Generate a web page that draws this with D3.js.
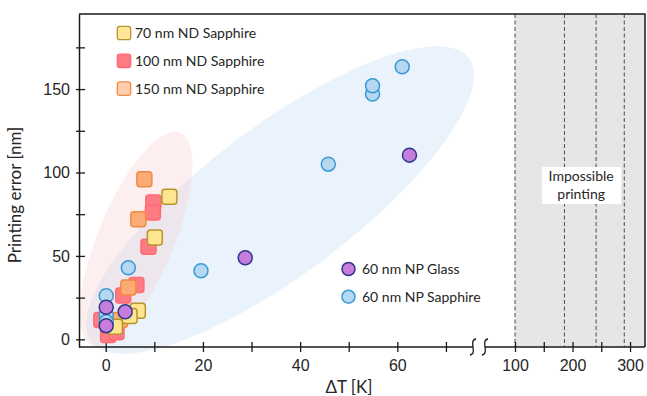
<!DOCTYPE html>
<html>
<head>
<meta charset="utf-8">
<script src="https://cdn.jsdelivr.net/npm/d3@7"></script>
<style>
  body { margin: 0; background: #fff; }
  svg { font-family: Lato, "Open Sans", sans-serif; }
</style>
</head>
<body>
<svg id="chart" width="647" height="396"></svg>
<script>
// values: [ΔT in K, printing error in nm]
const nd70 = [[13.1, 85.5], [10.1, 61], [6.6, 17.1], [4.9, 14], [1.9, 7.6]];
const nd100 = [[9.8, 82], [9.7, 76], [8.8, 55.5], [6.3, 32.5], [3.6, 26.3], [-0.9, 11.6], [0.5, 2.6], [2.2, 4.2]];
const nd150 = [[7.95, 96], [6.7, 72], [4.65, 31], [2.9, 11.6]];
const npSapphire = [[0.1, 26.1], [0.1, 14.6], [0.1, 10.5], [4.65, 42.9], [19.6, 41.1], [45.8, 105], [54.9, 147], [54.9, 152], [61, 163.4]];
const npGlass = [[0.1, 19.2], [4.0, 16.5], [0.1, 8.2], [28.7, 48.9], [62.5, 110.4]];

const yTicks = [0, 25, 50, 75, 100, 125, 150, 175];
const xTicksLeft = [0, 10, 20, 30, 40, 50, 60, 70];
const xTicksRight = [100, 150, 200, 250, 300];
const limitLines = [100, 186, 241, 290];   // dashed lines in the "impossible" zone

// ellipses given by the two ends of the long axis (data units)
const pinkEllipse = { from: [-2.8, -3.6], to: [15.3, 123.8] };
const blueEllipse = { from: [-3.0, -1.6], to: [74.7, 168.6] };

const svg = d3.select("#chart");
const textColor = "#262626";

const xLeft = d3.scaleLinear().domain([-5.5, 76.7]).range([79, 478.5]);
const xRight = d3.scaleLinear().domain([100, 326]).range([515, 645]);
const y = d3.scaleLinear().domain([-4.6, 195]).range([347, 14]);

const pLeft = 79, pRight = 645, pTop = 14, pBottom = 347;

// grey zone
svg.append("rect")
  .attr("x", xRight(100)).attr("y", pTop)
  .attr("width", pRight - xRight(100)).attr("height", pBottom - pTop)
  .attr("fill", "#e6e6e6");

svg.selectAll("line.limit")
  .data(limitLines)
  .join("line")
  .attr("class", "limit")
  .attr("x1", d => xRight(d)).attr("x2", d => xRight(d))
  .attr("y1", pTop).attr("y2", pBottom)
  .attr("stroke", "#5a5a5a")
  .attr("stroke-width", 1.1)
  .attr("stroke-dasharray", "4,2.5");

// label box
const note = svg.append("g").attr("transform", `translate(${xRight(215)},${y(92.5)})`);
note.append("rect")
  .attr("x", -39).attr("y", -18).attr("width", 79).attr("height", 37)
  .attr("fill", "#fff");
note.selectAll("text")
  .data(["Impossible", "printing"])
  .join("text")
  .attr("x", 0).attr("y", (d, i) => i * 18 - 4)
  .attr("text-anchor", "middle")
  .attr("font-size", 14)
  .attr("fill", textColor)
  .text(d => d);

// shaded ellipses
function drawEllipse(e, b, fill, opacity) {
  const x0 = xLeft(e.from[0]), y0 = y(e.from[1]);
  const x1 = xLeft(e.to[0]), y1 = y(e.to[1]);
  const cx = (x0 + x1) / 2, cy = (y0 + y1) / 2;
  const a = Math.hypot(x1 - x0, y1 - y0) / 2;
  const ang = Math.atan2(y1 - y0, x1 - x0) * 180 / Math.PI;
  svg.append("ellipse")
    .attr("cx", 0).attr("cy", 0).attr("rx", a).attr("ry", b)
    .attr("transform", `translate(${cx},${cy}) rotate(${ang})`)
    .attr("fill", fill)
    .attr("opacity", opacity);
}
drawEllipse(blueEllipse, 74, "#eaf3fb", 1);
drawEllipse(pinkEllipse, 38, "#f9c9cd", 0.3);

// frame
svg.append("path")
  .attr("d", `M${pLeft},${pTop}H${pRight}V${pBottom}`)
  .attr("fill", "none").attr("stroke", "#1a1a1a").attr("stroke-width", 1.5);

// y axis
const yAxis = svg.append("g")
  .attr("transform", `translate(${pLeft},0)`)
  .call(d3.axisLeft(y).tickValues(yTicks).tickSizeOuter(0)
    .tickFormat(d => d % 50 === 0 ? d : ""));
yAxis.select(".domain").attr("stroke", "#1a1a1a").attr("stroke-width", 1.5);
yAxis.selectAll(".tick line").attr("x1", -3).attr("x2", 6).attr("stroke", "#1a1a1a").attr("stroke-width", 1.3);
yAxis.selectAll(".tick text").attr("x", -9).attr("font-size", 16).attr("fill", textColor).attr("font-family", null);

// x axis, two pieces
function bottomAxis(scale, ticks, fmt) {
  const g = svg.append("g")
    .attr("transform", `translate(0,${pBottom})`)
    .call(d3.axisBottom(scale).tickValues(ticks).tickSizeOuter(0).tickFormat(fmt));
  g.select(".domain").remove();
  g.selectAll(".tick line").attr("y1", -5).attr("y2", 5).attr("stroke", "#1a1a1a").attr("stroke-width", 1.3);
  g.selectAll(".tick text").attr("y", 13).attr("font-size", 16).attr("fill", textColor).attr("font-family", null);
}
bottomAxis(xLeft, xTicksLeft, d => d % 20 === 0 ? d : "");
bottomAxis(xRight, xTicksRight, d => d % 100 === 0 ? d : "");

const breakX = 479;
svg.append("line")
  .attr("x1", pLeft).attr("x2", breakX - 6).attr("y1", pBottom).attr("y2", pBottom)
  .attr("stroke", "#1a1a1a").attr("stroke-width", 1.5);
svg.append("line")
  .attr("x1", breakX + 6).attr("x2", pRight).attr("y1", pBottom).attr("y2", pBottom)
  .attr("stroke", "#1a1a1a").attr("stroke-width", 1.5);
[breakX - 6, breakX + 6].forEach(bx => {
  svg.append("path")
    .attr("d", `M${bx + 3},${pBottom - 8} C${bx - 5},${pBottom - 7} ${bx + 5},${pBottom + 7} ${bx - 3},${pBottom + 8}`)
    .attr("fill", "none").attr("stroke", "#1a1a1a").attr("stroke-width", 1.3);
});

// axis titles
svg.append("text")
  .attr("x", 349).attr("y", 393)
  .attr("text-anchor", "middle").attr("font-size", 17).attr("fill", textColor)
  .text("ΔT [K]");
svg.append("text")
  .attr("transform", "translate(21,195) rotate(-90)")
  .attr("text-anchor", "middle").attr("font-size", 17).attr("fill", textColor)
  .text("Printing error [nm]");

// markers
const squares = [
  { name: "100 nm ND Sapphire", data: nd100, fill: "#ff7b83", stroke: "#ff6a73", legendFill: "#ff7b83" },
  { name: "150 nm ND Sapphire", data: nd150, fill: "#fbab76", stroke: "#f28a40", legendFill: "#fdcdb0" },
  { name: "70 nm ND Sapphire", data: nd70, fill: "#ffe590", stroke: "#b8942c", legendFill: "#ffe699" }
];
const circles = [
  { name: "60 nm NP Sapphire", data: npSapphire, fill: "#b5d8f0", stroke: "#3a9ad6" },
  { name: "60 nm NP Glass", data: npGlass, fill: "#c77ddd", stroke: "#2d3a8a" }
];

const sq = 15;
squares.forEach(s => {
  svg.append("g").selectAll("rect")
    .data(s.data)
    .join("rect")
    .attr("x", d => xLeft(d[0]) - sq / 2).attr("y", d => y(d[1]) - sq / 2)
    .attr("width", sq).attr("height", sq).attr("rx", 3)
    .attr("fill", s.fill).attr("stroke", s.stroke).attr("stroke-width", 1.5);
});
circles.forEach(s => {
  svg.append("g").selectAll("circle")
    .data(s.data)
    .join("circle")
    .attr("cx", d => xLeft(d[0])).attr("cy", d => y(d[1])).attr("r", 7)
    .attr("fill", s.fill).attr("stroke", s.stroke).attr("stroke-width", 1.5);
});

// legends
const sqLegend = [squares[2], squares[0], squares[1]];
const lg1 = svg.append("g").selectAll("g")
  .data(sqLegend)
  .join("g")
  .attr("transform", (d, i) => `translate(124,${33 + i * 27.8})`);
lg1.append("rect")
  .attr("x", -6.7).attr("y", -6.7).attr("width", 13.4).attr("height", 13.4).attr("rx", 2.5)
  .attr("fill", d => d.legendFill).attr("stroke", d => d.stroke).attr("stroke-width", 1.3);
lg1.append("text")
  .attr("x", 11).attr("dy", "0.35em")
  .attr("font-size", 14).attr("fill", textColor)
  .text(d => d.name);

const circLegend = [circles[1], circles[0]];
const lg2 = svg.append("g").selectAll("g")
  .data(circLegend)
  .join("g")
  .attr("transform", (d, i) => `translate(348.5,${269 + i * 27.7})`);
lg2.append("circle")
  .attr("r", 6.5)
  .attr("fill", d => d.fill).attr("stroke", d => d.stroke).attr("stroke-width", 1.5);
lg2.append("text")
  .attr("x", 13.5).attr("dy", "0.35em")
  .attr("font-size", 14).attr("fill", textColor)
  .text(d => d.name);
</script>
</body>
</html>
